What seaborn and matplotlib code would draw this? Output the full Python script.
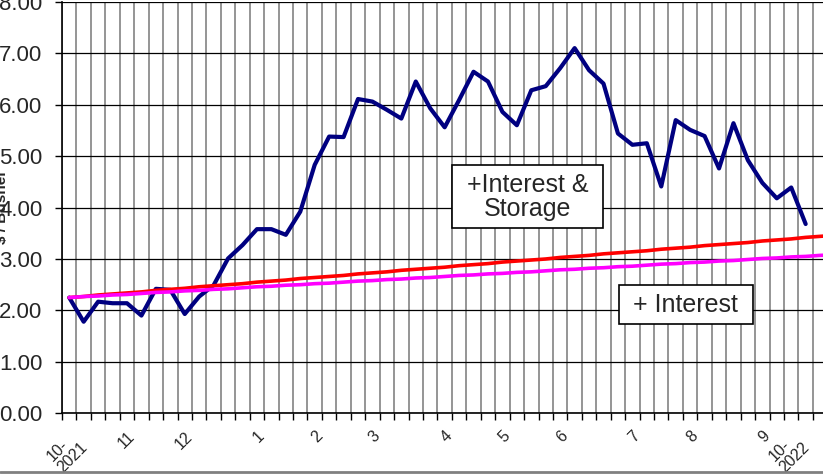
import numpy as np
import pandas as pd
import matplotlib.pyplot as plt
import seaborn as sns
from matplotlib.lines import Line2D

# weekly values, Oct 2021 - Oct 2022 ($ / bushel)
cash_price = [2.25, 1.78, 2.17, 2.14, 2.14, 1.90, 2.42, 2.40, 1.93, 2.27,
              2.49, 3.01, 3.27, 3.58, 3.58, 3.47, 3.92, 4.83, 5.38, 5.37,
              6.11, 6.06, 5.90, 5.73, 6.45, 5.93, 5.56, 6.09, 6.64, 6.45,
              5.86, 5.60, 6.28, 6.36, 6.71, 7.10, 6.67, 6.41, 5.44, 5.22,
              5.25, 4.41, 5.70, 5.51, 5.39, 4.76, 5.64, 4.92, 4.48, 4.18,
              4.39, 3.68]
interest_storage = [2.25, 2.27, 2.30, 2.32, 2.34, 2.36, 2.39, 2.41, 2.43, 2.46,
                    2.48, 2.50, 2.52, 2.55, 2.57, 2.59, 2.62, 2.64, 2.66, 2.68,
                    2.71, 2.73, 2.75, 2.78, 2.80, 2.82, 2.84, 2.87, 2.89, 2.91,
                    2.94, 2.96, 2.98, 3.00, 3.03, 3.05, 3.07, 3.10, 3.12, 3.14,
                    3.16, 3.19, 3.21, 3.23, 3.26, 3.28, 3.30, 3.32, 3.35, 3.37,
                    3.39, 3.42, 3.44, 3.46]
interest_only = [2.25, 2.27, 2.28, 2.30, 2.31, 2.33, 2.35, 2.36, 2.38, 2.39,
                 2.41, 2.42, 2.44, 2.46, 2.47, 2.49, 2.50, 2.52, 2.53, 2.55,
                 2.57, 2.58, 2.60, 2.61, 2.63, 2.64, 2.66, 2.68, 2.69, 2.71,
                 2.72, 2.74, 2.75, 2.77, 2.79, 2.80, 2.82, 2.83, 2.85, 2.86,
                 2.88, 2.90, 2.91, 2.93, 2.94, 2.96, 2.97, 2.99, 3.01, 3.02,
                 3.04, 3.05, 3.07, 3.08]
tick_weeks = [0, 4, 8, 13, 17, 21, 26, 30, 34, 39, 43, 48, 50]
tick_labels = ['10-\n2021', '11', '12', '1', '2', '3', '4', '5', '6', '7', '8', '9', '10-\n2022']

sns.set_style('white')
plt.rcParams['font.family'] = ['Liberation Sans', 'DejaVu Sans']

W, H = 823, 476
n_weeks = len(interest_storage)
step = 14.44
ax_w = n_weeks * step
fig = plt.figure(figsize=(W / 100, H / 100), dpi=100)
ax = fig.add_axes([62 / W, (H - 413.3) / H, ax_w / W, (413.3 - 1.8) / H])

sns.lineplot(x=np.arange(len(cash_price)), y=cash_price, color='#000080', lw=3, ax=ax, zorder=3)
sns.lineplot(x=np.arange(n_weeks), y=interest_storage, color='#ff0000', lw=2.6, ax=ax, zorder=4)
sns.lineplot(x=np.arange(n_weeks), y=interest_only, color='#ff00ff', lw=2.6, ax=ax, zorder=5)

ax.set_xlim(-0.5, n_weeks - 0.5)
ax.set_ylim(0, 8)
ax.set_yticks(np.arange(0, 9))
ax.set_yticklabels([f'{v:.2f}' for v in range(9)])
ax.set_xticks(tick_weeks)
ax.set_xticklabels(tick_labels, rotation=45, ha='right', va='top',
                   rotation_mode='anchor', multialignment='left', linespacing=1.0)
ax.set_xticks(np.arange(-0.5, n_weeks), minor=True)

ax.grid(False)
ax.grid(axis='x', which='minor', color='#8c8c8c', lw=1.3)
ax.grid(axis='y', which='major', color='black', lw=0.9)
ax.set_axisbelow(True)
ax.tick_params(axis='x', which='major', bottom=True, length=0, pad=11, labelsize=11.5)
ax.tick_params(axis='x', which='minor', bottom=True, length=5, width=1, color='black')
ax.tick_params(axis='y', left=True, length=5, width=1, color='black', pad=9, labelsize=16)
for side in ['top', 'right']:
    ax.spines[side].set_visible(False)
for side in ['left', 'bottom']:
    ax.spines[side].set_color('black')
    ax.spines[side].set_linewidth(1.2)

ax.set_xlabel('')
ax.set_ylabel('$ / Bushel', fontweight='bold', fontsize=11)
ax.yaxis.set_label_coords((9 - 62) / ax_w, 0.5)

ax.text(31.75, 4.21, ' +Interest & \nStorage', ha='center', va='center', fontsize=18,
        linespacing=1.0, zorder=6,
        bbox=dict(boxstyle='square,pad=0.3', fc='white', ec='black', lw=1.2))
ax.text(42.7, 2.115, ' + Interest ', ha='center', va='center', fontsize=18, zorder=6,
        bbox=dict(boxstyle='square,pad=0.3', fc='white', ec='black', lw=1.2))

fig.add_artist(Line2D([0, 1], [4 / H, 4 / H], transform=fig.transFigure, color='#808080', lw=2))

fig.savefig('out.png', dpi=100)
